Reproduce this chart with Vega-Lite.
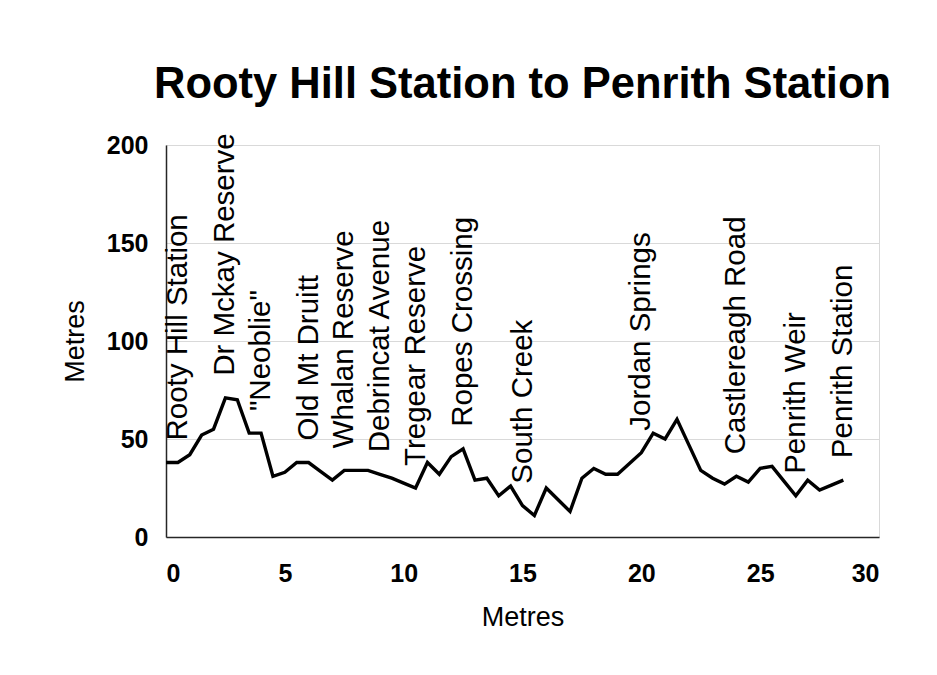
{
  "$schema": "https://vega.github.io/schema/vega-lite/v6.json",
  "autosize": {"type": "none"},
  "width": 713,
  "height": 392,
  "padding": {"left": 166, "top": 145, "right": 58, "bottom": 138},
  "background": "white",
  "config": {
    "font": "Liberation Sans",
    "view": {"stroke": "#d9d9d9", "strokeWidth": 1},
    "axis": {
      "labelFont": "Liberation Sans",
      "labelFontWeight": "bold",
      "labelFontSize": 25,
      "labelColor": "#000000",
      "titleFont": "Liberation Sans",
      "titleFontWeight": "normal",
      "titleFontSize": 27,
      "titleColor": "#000000",
      "domainColor": "#262626",
      "domainWidth": 1.5,
      "ticks": false,
      "tickSize": 0,
      "gridColor": "#d9d9d9",
      "gridWidth": 1
    }
  },
  "title": {
    "text": "Rooty Hill Station to Penrith Station",
    "font": "Liberation Sans",
    "fontSize": 43.5,
    "fontWeight": "bold",
    "color": "#000000",
    "anchor": "middle",
    "frame": "group",
    "baseline": "alphabetic",
    "offset": 45,
    "dy": 53
  },
  "data": {
    "values": [
      {"d": 0, "m": 38},
      {"d": 0.5, "m": 38, "place": "Rooty Hill Station"},
      {"d": 1, "m": 42},
      {"d": 1.5, "m": 52},
      {"d": 2, "m": 55},
      {"d": 2.5, "m": 71, "place": "Dr Mckay Reserve"},
      {"d": 3, "m": 70},
      {"d": 3.5, "m": 53},
      {"d": 4, "m": 53, "place": "\"Neoblie\""},
      {"d": 4.5, "m": 31},
      {"d": 5, "m": 33},
      {"d": 5.5, "m": 38},
      {"d": 6, "m": 38, "place": "Old Mt Druitt"},
      {"d": 6.5, "m": 33.5},
      {"d": 7, "m": 29},
      {"d": 7.5, "m": 34, "place": "Whalan Reserve"},
      {"d": 8, "m": 34},
      {"d": 8.5, "m": 34},
      {"d": 9, "m": 32, "place": "Debrincat Avenue"},
      {"d": 9.5, "m": 30},
      {"d": 10, "m": 27.5},
      {"d": 10.5, "m": 25, "place": "Tregear Reserve"},
      {"d": 11, "m": 38},
      {"d": 11.5, "m": 32},
      {"d": 12, "m": 41},
      {"d": 12.5, "m": 45, "place": "Ropes Crossing"},
      {"d": 13, "m": 29},
      {"d": 13.5, "m": 30},
      {"d": 14, "m": 21},
      {"d": 14.5, "m": 26},
      {"d": 15, "m": 16, "place": "South Creek"},
      {"d": 15.5, "m": 11},
      {"d": 16, "m": 25},
      {"d": 16.5, "m": 19},
      {"d": 17, "m": 13},
      {"d": 17.5, "m": 30},
      {"d": 18, "m": 35},
      {"d": 18.5, "m": 32},
      {"d": 19, "m": 32},
      {"d": 19.5, "m": 37.5},
      {"d": 20, "m": 43, "place": "Jordan Springs"},
      {"d": 20.5, "m": 53},
      {"d": 21, "m": 50},
      {"d": 21.5, "m": 60},
      {"d": 22, "m": 47},
      {"d": 22.5, "m": 34},
      {"d": 23, "m": 30},
      {"d": 23.5, "m": 27},
      {"d": 24, "m": 31, "place": "Castlereagh Road"},
      {"d": 24.5, "m": 28},
      {"d": 25, "m": 35},
      {"d": 25.5, "m": 36},
      {"d": 26, "m": 28.5},
      {"d": 26.5, "m": 21, "place": "Penrith Weir"},
      {"d": 27, "m": 29},
      {"d": 27.5, "m": 24},
      {"d": 28, "m": 26.5},
      {"d": 28.5, "m": 29, "place": "Penrith Station"}
    ]
  },
  "encoding": {
    "x": {
      "field": "d",
      "type": "quantitative",
      "scale": {"domain": [0, 30], "nice": false},
      "axis": {"values": [0, 5, 10, 15, 20, 25, 30], "grid": false, "title": "Metres", "labelPadding": 24, "titlePadding": 18}
    },
    "y": {
      "field": "m",
      "type": "quantitative",
      "scale": {"domain": [0, 200], "nice": false},
      "axis": {"values": [0, 50, 100, 150, 200], "grid": true, "title": "Metres", "labelPadding": 18, "titlePadding": 17}
    }
  },
  "layer": [
    {
      "mark": {"type": "line", "color": "#000000", "strokeWidth": 3.4, "strokeJoin": "miter"}
    },
    {
      "transform": [{"filter": "isValid(datum.place)"}],
      "mark": {"type": "text", "angle": 270, "align": "left", "baseline": "middle", "dx": 22, "fontSize": 29.5, "font": "Liberation Sans", "color": "#000000"},
      "encoding": {"text": {"field": "place", "type": "nominal"}}
    }
  ]
}
